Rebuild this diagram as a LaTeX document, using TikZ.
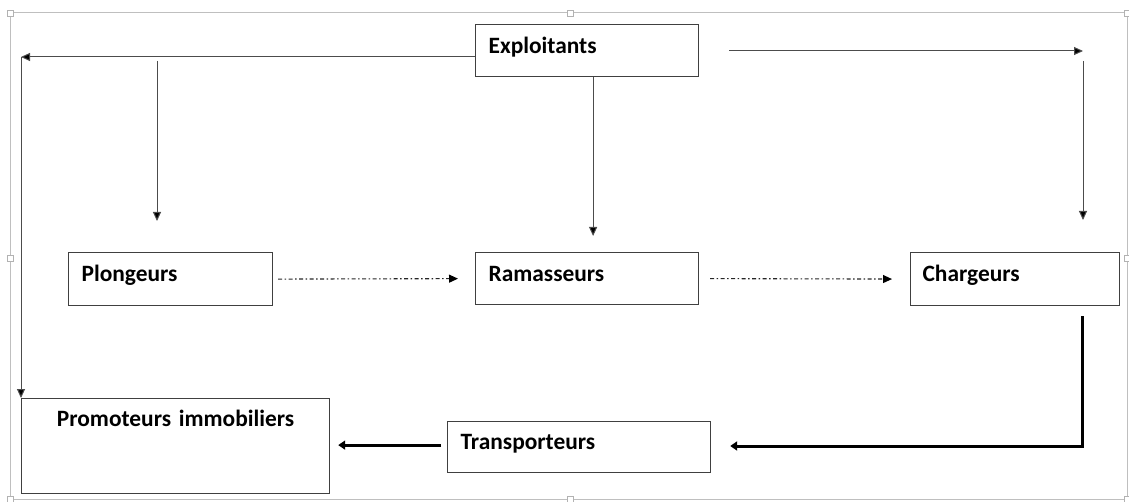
\documentclass[tikz,border=0pt]{standalone}
\usepackage{fontspec}
\setmainfont{Carlito}
\usetikzlibrary{arrows.meta,calc}
\begin{document}
\begin{tikzpicture}[x=1pt,y=-1pt,
  box/.style={draw=black!75, line width=1.2pt, rectangle, anchor=north west,
    inner xsep=13pt, inner ysep=0pt, align=left,
    font=\fontsize{23.4}{27}\selectfont\bfseries},
  thin arrow/.style={draw=black!70, line width=1pt, -{Triangle[length=9pt,width=8pt,fill=black]}},
  dd arrow/.style={draw=black!85, line width=1.1pt, dash pattern=on 4pt off 2.5pt on 1.5pt off 2.5pt,
    -{Triangle[length=9pt,width=8pt,fill=black,color=black]}},
  bold arrow/.style={draw=black, line width=3pt, -{Triangle[length=7pt,width=9pt]}},
  frame/.style={draw=black!25, line width=1pt},
  handle/.style={draw=black!30, fill=white, line width=0.8pt, minimum size=6pt, inner sep=0pt, rectangle}
]
\useasboundingbox (0,0) rectangle (1129,502);
% selection frame
\draw[frame] (10,13) rectangle (1127,499);
\foreach \hx/\hy [count=\i] in {10/13,570/13,1127/13,10/258,1127/258,10/499,570/499,1127/499}
  \node[handle] (h\i) at (\hx,\hy) {};

% boxes
\node[box, minimum width=223pt, text width=197pt, text height=29pt, text depth=23pt] (exp) at (475,24) {Exploitants};
\node[box, minimum width=204pt, text width=178pt, text height=29pt, text depth=24pt] (plo) at (68,252) {Plongeurs};
\node[box, minimum width=223pt, text width=197pt, text height=29pt, text depth=23pt] (ram) at (475,252) {Ramasseurs};
\node[box, minimum width=209pt, text width=185pt, inner xsep=12pt, text height=29pt, text depth=24pt] (cha) at (910,252) {Chargeurs};
\node[box, minimum width=263pt, text width=237pt, text height=28pt, text depth=23pt] (tra) at (447,421) {Transporteurs};
\node[box, minimum width=308pt, text width=282pt, align=center, text height=28pt, text depth=67pt] (pro) at (21,398) {Promoteurs immobiliers};

% connectors
\coordinate (cTL) at (21,57);
\coordinate (cPl) at (157,61);
\coordinate (cTR) at (1083,51);
\coordinate (cBR) at (1082,446);

\draw[thin arrow] (exp.west |- cTL) -- (cTL);
\draw[thin arrow] (cTL) -- (pro.north west);
\draw[thin arrow, shorten >=31pt] (cPl) -- (cPl |- plo.north);
\draw[thin arrow, shorten >=16pt] ([xshift=6pt]exp.south) -- ([xshift=6pt]exp.south |- ram.north);
\draw[thin arrow, shorten <=30pt] (exp.east |- cTR) -- (cTR);
\draw[thin arrow, shorten <=10pt, shorten >=32pt] (cTR) -- (cTR |- cha.north);

\draw[dd arrow, shorten <=5pt, shorten >=17pt] (plo.east) -- (ram.west);
\draw[dd arrow, shorten <=11pt, shorten >=18pt] (ram.east) -- (cha.west);

\draw[bold arrow, shorten <=10pt, shorten >=19pt] (cBR |- cha.south) -- (cBR) -- (tra.east |- cBR);
\draw[bold arrow, shorten <=6pt, shorten >=8pt] ([yshift=2pt]tra.west) -- ([yshift=2pt]tra.west -| pro.east);
\end{tikzpicture}
\end{document}
